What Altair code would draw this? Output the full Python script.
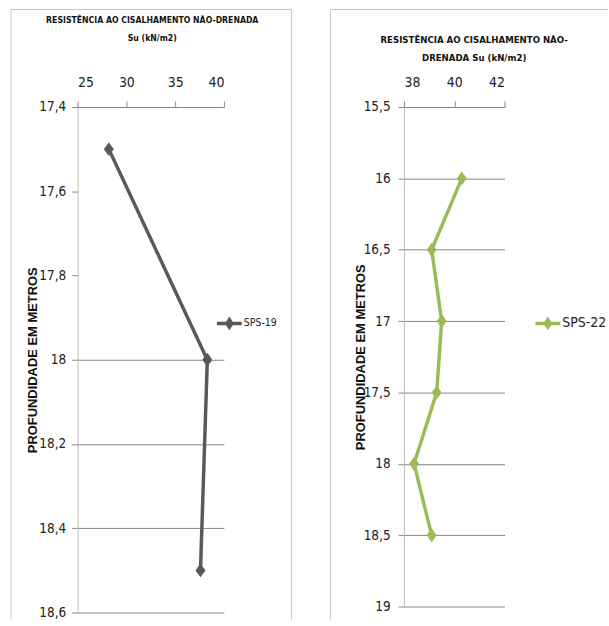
import altair as alt
import pandas as pd

# SPS-19 profile: depth (m) and undrained shear strength Su (kN/m2)
sps19_depth = [17.5, 18.0, 18.5]
sps19_su = [28.2, 38.3, 37.6]

# SPS-22 profile
sps22_depth = [16.0, 16.5, 17.0, 17.5, 18.0, 18.5]
sps22_su = [40.3, 39.1, 39.5, 39.3, 38.4, 39.1]

left_x_ticks = [25, 30, 35, 40]
left_y_ticks = [17.4, 17.6, 17.8, 18.0, 18.2, 18.4, 18.6]
right_x_ticks = [38, 40, 42]
right_y_ticks = [15.5, 16.0, 16.5, 17.0, 17.5, 18.0, 18.5, 19.0]

GRAY_LINE = "#595959"
GREEN_LINE = "#9BBB59"
NARROW = "DejaVu Sans Condensed, Liberation Sans Narrow, sans-serif"
AXIS_GRAY = "#868686"
FRAME_GRAY = "#c6c6c6"

# legend glyph: a short stroke with a small diamond in the middle
LEGEND_GLYPH = "M-1,0L1,0M0,-0.3L0.2,0L0,0.3L-0.2,0Z"
# markers are slightly taller than wide
MARKER = "M-0.72,0L0,-1L0.72,0L0,1Z"

DEPTH_LABEL = "replace(format(datum.value, '.1~f'), '.', ',')"


def frame(x0, x1, y0, y1, right_side=True):
    """Light border drawn around a panel (top, left and optionally right edge)."""
    blank = alt.Data(values=[{}])
    base = alt.Chart(blank).mark_rule(color=FRAME_GRAY, strokeWidth=1)
    parts = [
        base.encode(x=alt.value(x0), x2=alt.value(x1), y=alt.value(y0), y2=alt.value(y0)),
        base.encode(x=alt.value(x0), x2=alt.value(x0), y=alt.value(y0), y2=alt.value(y1)),
    ]
    if right_side:
        parts.append(base.encode(x=alt.value(x1), x2=alt.value(x1), y=alt.value(y0), y2=alt.value(y1)))
    return parts


def panel(depth, su, name, color, xdom, xticks, ydom, yticks, w, h,
          title_lines, title_size, title_line_h, title_offset, title_dx,
          ytitle_x, ylabel_pad, legend_x, legend_y, legend_size, frame_box, grid_test):
    df = pd.DataFrame({"depth": depth, "su": su, "serie": name})

    x_enc = alt.X(
        "su:Q",
        scale=alt.Scale(domain=xdom, nice=False, zero=False),
        axis=alt.Axis(
            orient="top", values=xticks, title=None, grid=False,
            domainColor=AXIS_GRAY, tickColor=AXIS_GRAY, tickSize=6,
            labelFont=NARROW, labelFontSize=14, labelColor="#222222",
            labelPadding=12, format="d",
        ),
    )
    y_axis = dict(
        orient="left", values=yticks, title="PROFUNDIDADE EM METROS",
        titleFont="Liberation Sans", titleFontWeight="bold", titleFontSize=13,
        titleColor="#111111", titleX=ytitle_x, titleY=h / 2,
        titleBaseline="middle", titleAngle=270,
        domainColor="#bdbdbd", tickColor=AXIS_GRAY, tickSize=6,
        gridColor=AXIS_GRAY, gridWidth=1,
        labelFont=NARROW, labelFontSize=13.5, labelColor="#222222",
        labelPadding=ylabel_pad, labelExpr=DEPTH_LABEL,
    )
    if grid_test:
        y_axis["gridOpacity"] = alt.condition(grid_test, alt.value(0), alt.value(1))
    y_enc = alt.Y(
        "depth:Q",
        scale=alt.Scale(domain=ydom, reverse=True, nice=False, zero=False),
        axis=alt.Axis(**y_axis),
    )

    base = alt.Chart(df)
    line = base.mark_line(color=color, strokeWidth=3.5).encode(
        x=x_enc, y=y_enc, order="depth:Q"
    )
    pts = base.mark_point(shape=MARKER, filled=True, size=196, opacity=1).encode(
        x=x_enc,
        y=y_enc,
        color=alt.Color(
            "serie:N",
            scale=alt.Scale(range=[color]),
            legend=alt.Legend(
                title=None, orient="none", legendX=legend_x, legendY=legend_y,
                symbolType=LEGEND_GLYPH, symbolSize=625, symbolStrokeWidth=3.5,
                symbolStrokeColor=color, symbolFillColor=color, symbolOpacity=1,
                labelFont=NARROW, labelFontSize=legend_size, labelColor="#222222",
                labelOffset=0, padding=0,
            ),
        ),
    )
    layers = frame(*frame_box) + [line, pts]
    return alt.layer(*layers).properties(
        width=w,
        height=h,
        title=alt.TitleParams(
            text=title_lines, font=NARROW, fontSize=title_size, fontWeight="bold",
            color="#111111", anchor="middle", frame="group", offset=title_offset,
            dx=title_dx, lineHeight=title_line_h,
        ),
    )


left = panel(
    sps19_depth, sps19_su, "SPS-19", GRAY_LINE,
    [25, 40], left_x_ticks, [17.4, 18.6], left_y_ticks, 147, 508,
    ["RESISTÊNCIA AO CISALHAMENTO NÃO-DRENADA", "Su (kN/m2)"], 8.7, 18.5, -34, 1.5,
    -45, 6, 138, 203, 10.5, (-67, 215, -98, 515, True), "datum.value < 17.9",
)
right = panel(
    sps22_depth, sps22_su, "SPS-22", GREEN_LINE,
    [38, 42], right_x_ticks, [15.5, 19.0], right_y_ticks, 101, 502,
    ["RESISTÊNCIA AO CISALHAMENTO NÃO-", "DRENADA Su (kN/m2)"], 9.6, 18, -54, 20,
    -44, 8, 130, 203, 14, (-74, 205, -98, 515, False), None,
)

chart = (
    alt.hconcat(left, right, spacing=37)
    .resolve_scale(color="independent", x="independent", y="independent")
    .resolve_legend(color="independent")
    .properties(padding={"left": 10, "top": 7, "right": 0, "bottom": 0}, background="white")
    .configure_view(stroke=None)
)

chart.save("out.html", embed_options={"renderer": "svg", "actions": False})
